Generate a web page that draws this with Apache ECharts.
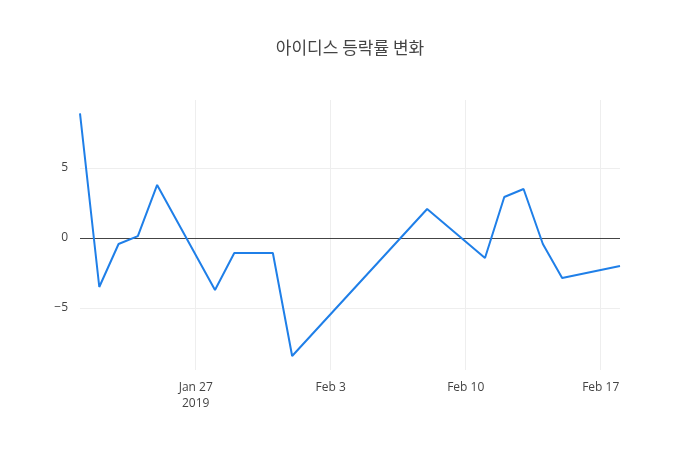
<!DOCTYPE html>
<html>
<head>
<meta charset="utf-8">
<script src="https://cdn.jsdelivr.net/npm/echarts@6/dist/echarts.min.js"></script>
<style>html,body{margin:0;padding:0;background:#fff}</style>
</head>
<body>
<div id="container" style="width:700px;height:450px"></div>
<script>
// 날짜와 등락률 (%)
var dates = ['2019-01-21','2019-01-22','2019-01-23','2019-01-24','2019-01-25','2019-01-28','2019-01-29','2019-01-30','2019-01-31','2019-02-01','2019-02-08','2019-02-11','2019-02-12','2019-02-13','2019-02-14','2019-02-15','2019-02-18'];
var rates = [8.9, -3.5, -0.43, 0.14, 3.79, -3.71, -1.07, -1.07, -1.07, -8.43, 2.07, -1.43, 2.93, 3.5, -0.43, -2.86, -2.0];
var xTicks = ['2019-01-27','2019-02-03','2019-02-10','2019-02-17'];
var xTickLabels = ['Jan 27\n2019','Feb 3','Feb 10','Feb 17'];
var yTicks = [-5, 0, 5];
var yTickLabels = ['−5','0','5'];

// 날짜를 1월 21일 기준 일수로 변환
var DAY = 86400000;
var base = Date.UTC(2019, 0, 21);
function toDay(d) { var p = d.split('-'); return (Date.UTC(+p[0], +p[1] - 1, +p[2]) - base) / DAY; }

var myChart = echarts.init(document.getElementById('container'));
var tickDays = xTicks.map(toDay);
var gridLines = [];
tickDays.forEach(function (d) { gridLines.push({xAxis: d, lineStyle: {color: '#eeeeee', width: 1, type: 'solid'}}); });
yTicks.forEach(function (v) { gridLines.push({yAxis: v, lineStyle: {color: v === 0 ? '#444' : '#eeeeee', width: 1, type: 'solid'}}); });

var option = {
    title: {
        text: '아이디스 등락률 변화',
        left: 'center',
        top: 34,
        textStyle: {fontFamily: 'Noto Sans CJK KR', fontSize: 17, fontWeight: 'normal', color: '#444'}
    },
    grid: {left: 80, right: 80, top: 100, bottom: 80},
    xAxis: {
        type: 'value',
        min: 0,
        max: toDay('2019-02-18'),
        axisLine: {show: false},
        axisTick: {show: false},
        splitLine: {show: false},
        axisLabel: {
            customValues: tickDays,
            color: '#444', fontSize: 12, fontFamily: 'Open Sans', margin: 10, lineHeight: 16,
            formatter: function (v) {
                var i = tickDays.indexOf(v);
                return i >= 0 ? xTickLabels[i] : '';
            }
        }
    },
    yAxis: {
        type: 'value',
        min: -9.43,
        max: 9.86,
        axisLine: {show: false},
        axisTick: {show: false},
        splitLine: {show: false},
        axisLabel: {
            customValues: yTicks,
            color: '#444', fontSize: 12, fontFamily: 'Open Sans', margin: 12,
            formatter: function (v) {
                var i = yTicks.indexOf(v);
                return i >= 0 ? yTickLabels[i] : '';
            }
        }
    },
    series: [{
        type: 'line',
        data: dates.map(function (d, i) { return [toDay(d), rates[i]]; }),
        showSymbol: false,
        lineStyle: {color: '#1f7fe8', width: 2},
        itemStyle: {color: '#1f7fe8'},
        z: 3,
        markLine: {silent: true, symbol: 'none', label: {show: false}, animation: false, z: 1, data: gridLines}
    }],
    animation: false
};
myChart.setOption(option);
</script>
</body>
</html>
